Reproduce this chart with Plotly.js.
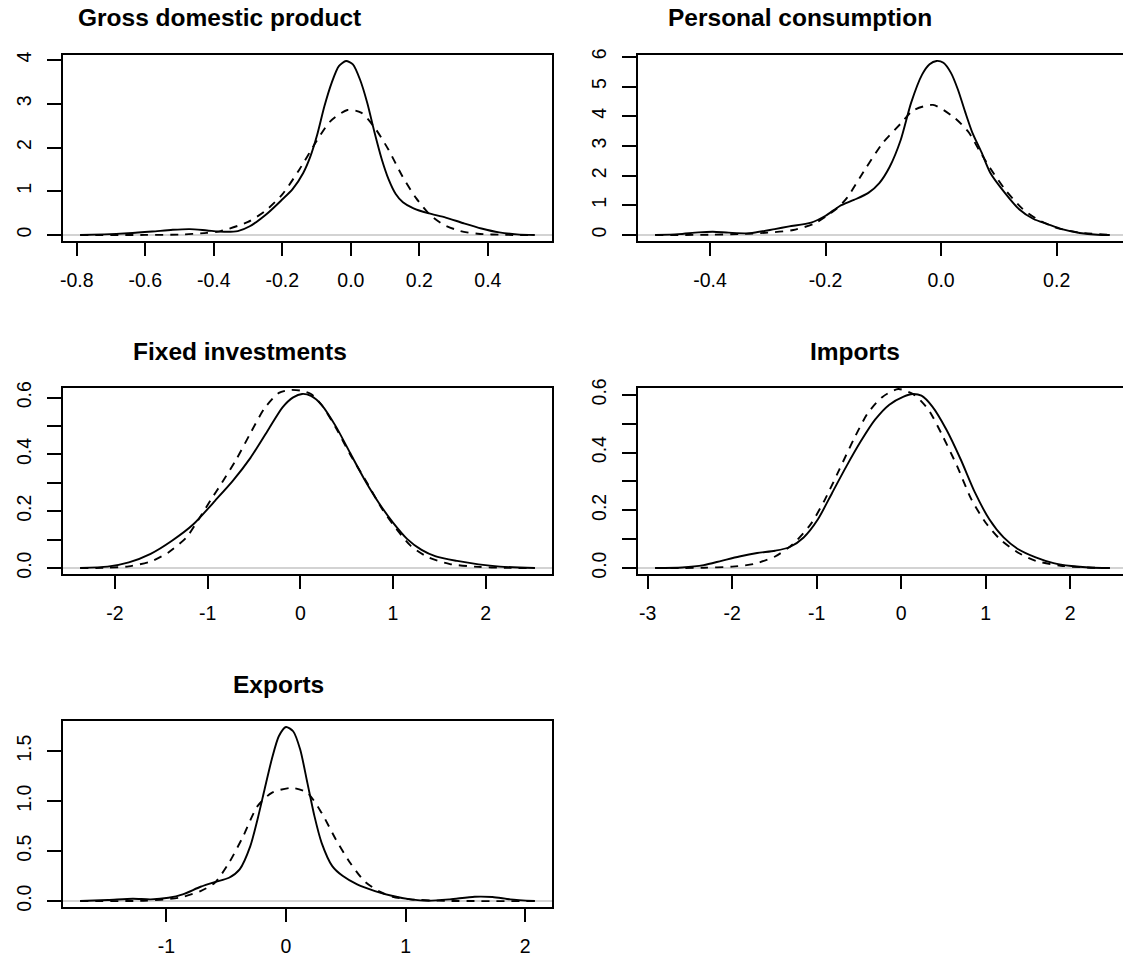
<!DOCTYPE html>
<html>
<head>
<meta charset="utf-8">
<script src="https://cdn.plot.ly/plotly-3.0.1.min.js"></script>
<style>
  html, body { margin: 0; padding: 0; background: #ffffff; }
  #chart { width: 1123px; height: 957px; }
</style>
</head>
<body>
<div id="chart"></div>
<script>
// Solid line: kernel density estimate; dashed line: fitted normal density.

// --- Gross domestic product ---
const gdpTitle = "Gross domestic product";
const gdpKdeX = [-0.79,-0.72,-0.65,-0.58,-0.52,-0.47,-0.42,-0.37,-0.33,-0.295,-0.243,-0.202,-0.17,-0.139,-0.118,-0.098,-0.077,-0.056,-0.035,-0.014,0.006,0.027,0.048,0.069,0.09,0.11,0.131,0.152,0.183,0.225,0.277,0.329,0.381,0.433,0.485,0.537];
const gdpKdeY = [0,0.015,0.04,0.08,0.12,0.135,0.105,0.075,0.09,0.2,0.5,0.8,1.05,1.42,1.8,2.3,2.95,3.48,3.86,3.98,3.9,3.55,3.02,2.35,1.74,1.28,0.94,0.75,0.61,0.5,0.4,0.27,0.15,0.06,0.015,0];
const gdpNormX = [-0.79,-0.6,-0.5,-0.42,-0.38,-0.3,-0.25,-0.2,-0.15,-0.1,-0.06,-0.01,0.03,0.07,0.11,0.15,0.19,0.23,0.27,0.32,0.37,0.45,0.537];
const gdpNormY = [0,0.003,0.01,0.05,0.09,0.3,0.55,0.93,1.5,2.15,2.6,2.86,2.8,2.45,1.95,1.35,0.85,0.47,0.24,0.09,0.03,0.005,0];
const gdpXTicks = [-0.8,-0.6,-0.4,-0.2,0,0.2,0.4];
const gdpXLabels = ["-0.8","-0.6","-0.4","-0.2","0.0","0.2","0.4"];
const gdpYTicks = [0,1,2,3,4];
const gdpYLabels = ["0","1","2","3","4"];

// --- Personal consumption ---
const pcTitle = "Personal consumption";
const pcKdeX = [-0.495,-0.455,-0.42,-0.395,-0.368,-0.331,-0.288,-0.263,-0.225,-0.2,-0.176,-0.151,-0.126,-0.107,-0.089,-0.07,-0.052,-0.033,-0.02,-0.008,0.004,0.017,0.029,0.042,0.054,0.07,0.085,0.11,0.135,0.16,0.184,0.209,0.24,0.271,0.292];
const pcKdeY = [0,0.03,0.09,0.11,0.08,0.06,0.2,0.29,0.42,0.65,0.97,1.18,1.42,1.75,2.3,3.2,4.45,5.4,5.75,5.86,5.8,5.46,4.9,4.12,3.45,2.78,2.1,1.43,0.87,0.54,0.37,0.2,0.07,0.01,0];
const pcNormX = [-0.495,-0.4,-0.34,-0.3,-0.256,-0.22,-0.2,-0.18,-0.163,-0.132,-0.101,-0.07,-0.048,-0.014,0.023,0.048,0.066,0.085,0.11,0.141,0.166,0.197,0.24,0.292];
const pcNormY = [0,0.01,0.04,0.08,0.17,0.38,0.62,0.9,1.25,2.2,3.1,3.75,4.2,4.38,3.95,3.45,2.85,2.25,1.55,0.88,0.54,0.26,0.08,0.01];
const pcXTicks = [-0.4,-0.2,0,0.2];
const pcXLabels = ["-0.4","-0.2","0.0","0.2"];
const pcYTicks = [0,1,2,3,4,5,6];
const pcYLabels = ["0","1","2","3","4","5","6"];

// --- Fixed investments ---
const fiTitle = "Fixed investments";
const fiKdeX = [-2.375,-2.08,-1.85,-1.615,-1.385,-1.154,-0.923,-0.731,-0.538,-0.346,-0.192,-0.077,0.019,0.115,0.231,0.385,0.538,0.692,0.846,1.0,1.154,1.308,1.462,1.692,1.923,2.154,2.53];
const fiKdeY = [0,0.005,0.02,0.05,0.096,0.154,0.236,0.306,0.388,0.487,0.566,0.601,0.613,0.606,0.574,0.498,0.405,0.312,0.23,0.16,0.102,0.064,0.041,0.025,0.013,0.005,0];
const fiNormX = [-2.375,-2.08,-1.85,-1.615,-1.423,-1.231,-1.096,-0.962,-0.846,-0.692,-0.538,-0.385,-0.231,-0.115,0,0.115,0.231,0.385,0.538,0.731,0.885,1.038,1.192,1.385,1.615,1.923,2.2,2.53];
const fiNormY = [0,0.001,0.006,0.023,0.055,0.107,0.172,0.242,0.3,0.382,0.475,0.563,0.617,0.627,0.625,0.613,0.574,0.493,0.4,0.294,0.207,0.137,0.078,0.037,0.014,0.004,0.001,0];
const fiXTicks = [-2,-1,0,1,2];
const fiXLabels = ["-2","-1","0","1","2"];
const fiYTicks = [0,0.1,0.2,0.3,0.4,0.5,0.6];
const fiYLabels = ["0.0","","0.2","","0.4","","0.6"];

// --- Imports ---
const impTitle = "Imports";
const impKdeX = [-2.91,-2.59,-2.336,-2.125,-1.914,-1.703,-1.491,-1.322,-1.153,-0.984,-0.815,-0.646,-0.477,-0.308,-0.139,0.03,0.135,0.241,0.368,0.537,0.706,0.875,1.044,1.213,1.381,1.593,1.804,2.015,2.226,2.47];
const impKdeY = [0,0.002,0.01,0.025,0.04,0.052,0.06,0.072,0.106,0.169,0.261,0.353,0.439,0.514,0.566,0.594,0.603,0.597,0.56,0.479,0.376,0.261,0.169,0.106,0.066,0.037,0.017,0.007,0.002,0];
const impNormX = [-2.91,-2.336,-1.998,-1.745,-1.491,-1.28,-1.069,-0.9,-0.731,-0.562,-0.393,-0.224,-0.034,0.156,0.325,0.494,0.663,0.832,1.001,1.17,1.381,1.593,1.888,2.2,2.47];
const impNormY = [0,0.001,0.005,0.014,0.04,0.083,0.152,0.238,0.341,0.445,0.537,0.592,0.62,0.6,0.548,0.456,0.353,0.238,0.157,0.1,0.054,0.025,0.008,0.002,0];
const impXTicks = [-3,-2,-1,0,1,2];
const impXLabels = ["-3","-2","-1","0","1","2"];
const impYTicks = [0,0.1,0.2,0.3,0.4,0.5,0.6];
const impYLabels = ["0.0","","0.2","","0.4","","0.6"];

// --- Exports ---
const expTitle = "Exports";
const expKdeX = [-1.72,-1.488,-1.28,-1.131,-0.982,-0.863,-0.714,-0.595,-0.476,-0.387,-0.298,-0.238,-0.179,-0.119,-0.06,0,0.06,0.119,0.179,0.238,0.298,0.387,0.476,0.595,0.744,0.893,1.042,1.19,1.369,1.577,1.726,1.875,2.08];
const expKdeY = [0,0.01,0.023,0.017,0.033,0.067,0.143,0.19,0.233,0.317,0.55,0.817,1.117,1.417,1.65,1.743,1.70,1.517,1.183,0.85,0.583,0.35,0.25,0.167,0.1,0.05,0.017,0.003,0.017,0.043,0.04,0.017,0];
const expNormX = [-1.72,-1.19,-0.893,-0.714,-0.595,-0.476,-0.357,-0.238,-0.119,0.045,0.179,0.298,0.417,0.536,0.655,0.774,0.893,1.042,1.339,2.08];
const expNormY = [0,0.003,0.033,0.1,0.183,0.383,0.65,0.95,1.083,1.133,1.083,0.883,0.617,0.383,0.2,0.1,0.043,0.017,0.002,0];
const expXTicks = [-1,0,1,2];
const expXLabels = ["-1","0","1","2"];
const expYTicks = [0,0.5,1,1.5];
const expYLabels = ["0.0","0.5","1.0","1.5"];

// ---------------------------------------------------------------
// Page geometry (pixels)
const W = 1123, H = 957;
const COL_LEFT = [62, 637];
const ROW_TOP = [54, 387, 720];
const BOX_W = 491, BOX_H = 188;
const FONT = "Liberation Sans, Arial, Helvetica, sans-serif";
const TICK_SIZE = 19.5, TITLE_SIZE = 24.5;

const panels = [
  { title: gdpTitle, kx: gdpKdeX, ky: gdpKdeY, nx: gdpNormX, ny: gdpNormY,
    xt: gdpXTicks, xl: gdpXLabels, yt: gdpYTicks, yl: gdpYLabels, col: 0, row: 0, tx: 219 },
  { title: pcTitle, kx: pcKdeX, ky: pcKdeY, nx: pcNormX, ny: pcNormY,
    xt: pcXTicks, xl: pcXLabels, yt: pcYTicks, yl: pcYLabels, col: 1, row: 0, tx: 800 },
  { title: fiTitle, kx: fiKdeX, ky: fiKdeY, nx: fiNormX, ny: fiNormY,
    xt: fiXTicks, xl: fiXLabels, yt: fiYTicks, yl: fiYLabels, col: 0, row: 1, tx: 240 },
  { title: impTitle, kx: impKdeX, ky: impKdeY, nx: impNormX, ny: impNormY,
    xt: impXTicks, xl: impXLabels, yt: impYTicks, yl: impYLabels, col: 1, row: 1, tx: 855 },
  { title: expTitle, kx: expKdeX, ky: expKdeY, nx: expNormX, ny: expNormY,
    xt: expXTicks, xl: expXLabels, yt: expYTicks, yl: expYLabels, col: 0, row: 2, tx: 278 }
];

// Axis limits padded by 4% on each side of the data range
function paddedRange(values) {
  const lo = Math.min(...values), hi = Math.max(...values);
  const pad = 0.04 * (hi - lo);
  return [lo - pad, hi + pad];
}

const traces = [];
const shapes = [];
const annotations = [];
const layout = {
  width: W, height: H,
  margin: { l: 0, r: 0, t: 0, b: 0 },
  paper_bgcolor: "#ffffff", plot_bgcolor: "#ffffff",
  showlegend: false,
  font: { family: FONT, color: "#000000", size: TICK_SIZE }
};

panels.forEach((p, i) => {
  const n = i + 1;
  const sfx = n === 1 ? "" : String(n);
  const left = COL_LEFT[p.col];
  const top = ROW_TOP[p.row];
  const visW = Math.min(BOX_W, W - left);

  const xr = paddedRange(p.kx);
  const yr = paddedRange(p.ky);
  const xShown = [xr[0], xr[0] + (xr[1] - xr[0]) * visW / BOX_W];

  layout["xaxis" + sfx] = {
    domain: [left / W, (left + visW) / W],
    anchor: "y" + sfx,
    range: xShown,
    showgrid: false, zeroline: false, showline: false,
    tickmode: "array", tickvals: p.xt, ticktext: p.xl,
    ticks: "outside", ticklen: 13, tickwidth: 2, tickcolor: "#000",
    ticklabelstandoff: 8,
    tickfont: { family: FONT, size: TICK_SIZE, color: "#000" },
    fixedrange: true
  };
  layout["yaxis" + sfx] = {
    domain: [1 - (top + BOX_H) / H, 1 - top / H],
    anchor: "x" + sfx,
    range: yr,
    showgrid: false, zeroline: false, showline: false,
    tickmode: "array", tickvals: p.yt, ticktext: p.yl,
    ticks: "outside", ticklen: 14, tickwidth: 2, tickcolor: "#000",
    tickangle: -90,
    ticklabelstandoff: 8,
    tickfont: { family: FONT, size: TICK_SIZE, color: "#000" },
    fixedrange: true
  };

  // grey reference line at zero density
  shapes.push({
    type: "line", layer: "below",
    xref: "paper", yref: "y" + sfx,
    x0: left / W, x1: (left + BOX_W) / W, y0: 0, y1: 0,
    line: { color: "#c4c4c4", width: 1.5 }
  });
  // frame around the plotting region
  shapes.push({
    type: "rect", layer: "above",
    xref: "paper", yref: "paper",
    x0: left / W, x1: (left + BOX_W) / W,
    y0: 1 - (top + BOX_H) / H, y1: 1 - top / H,
    line: { color: "#000", width: 2 }
  });

  traces.push({
    type: "scatter", mode: "lines",
    x: p.nx, y: p.ny, xaxis: "x" + sfx, yaxis: "y" + sfx,
    line: { color: "#000", width: 1.9, dash: "8px,7px", shape: "spline", smoothing: 0.7 },
    hoverinfo: "skip"
  });
  traces.push({
    type: "scatter", mode: "lines",
    x: p.kx, y: p.ky, xaxis: "x" + sfx, yaxis: "y" + sfx,
    line: { color: "#000", width: 1.9, shape: "spline", smoothing: 0.7 },
    hoverinfo: "skip"
  });

  annotations.push({
    xref: "paper", yref: "paper",
    x: p.tx / W, y: 1 - (top - 36) / H,
    xanchor: "center", yanchor: "middle",
    showarrow: false,
    text: "<b>" + p.title + "</b>",
    font: { family: FONT, size: TITLE_SIZE, color: "#000" }
  });
});

layout.shapes = shapes;
layout.annotations = annotations;

Plotly.newPlot("chart", traces, layout, { displayModeBar: false, staticPlot: true });
</script>
</body>
</html>
